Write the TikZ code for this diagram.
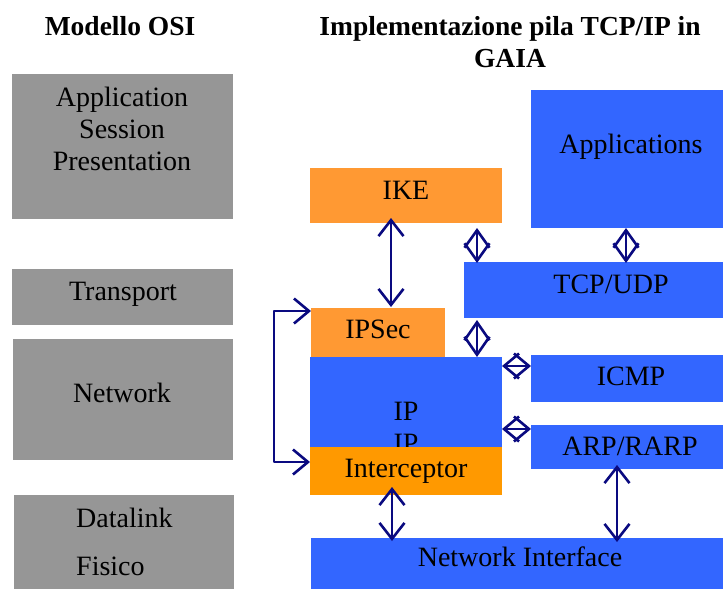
\documentclass[tikz,border=0pt]{standalone}
\usepackage{fontspec}
\setmainfont{Liberation Serif}
\usetikzlibrary{arrows.meta,calc}
\definecolor{osigrey}{HTML}{969696}
\definecolor{stackblue}{HTML}{3366FF}
\definecolor{secorange}{HTML}{FF9933}
\definecolor{hookorange}{HTML}{FF9900}
\definecolor{linknavy}{HTML}{0A0A80}
\begin{document}
\begin{tikzpicture}[x=1pt,y=-1pt,
  layer/.style={draw=none, inner sep=0pt, outer sep=0pt, anchor=north west},
  osi/.style={layer, fill=osigrey},
  stack/.style={layer, fill=stackblue},
  sec/.style={layer, fill=secorange},
  lbl/.style={anchor=base, inner sep=0pt, font=\fontsize{28}{32}\selectfont},
  ttl/.style={lbl, font=\fontsize{27.5}{32}\selectfont\bfseries},
  link/.style={line width=2.6pt, draw=linknavy, line cap=round, line join=round,
    arrows={Straight Barb[length=#1,width=25pt]-Straight Barb[length=#1,width=25pt]}},
  link/.default=16pt
]
\useasboundingbox (0,0) rectangle (723,589);

% titles
\node[ttl] (t1) at (120,35) {Modello OSI};
\node[ttl] (t2) at (510,35) {Implementazione pila TCP/IP in};
\node[ttl] (t3) at (510,67) {GAIA};

% OSI reference layers
\node[osi, minimum width=221pt, minimum height=145pt] (oApp) at (12,74) {};
\node[lbl] (lApp1) at (122,106) {Application};
\node[lbl] (lApp2) at (122,138) {Session};
\node[lbl] (lApp3) at (122,170) {Presentation};

\node[osi, minimum width=221pt, minimum height=56pt] (oTr) at (12,269) {};
\node[lbl] (lTr) at (123,300) {Transport};

\node[osi, minimum width=220pt, minimum height=121pt] (oNet) at (13,339) {};
\node[lbl] (lNet) at (122,402) {Network};

\node[osi, minimum width=220pt, minimum height=94pt] (oDl) at (14,495) {};
\node[lbl, anchor=base west] (lDl) at (76,527) {Datalink};
\node[lbl, anchor=base west] (lPh) at (76,575) {Fisico};

% GAIA stack
\node[stack, minimum width=192pt, minimum height=138pt] (apps) at (531,90) {};
\node[lbl] (lApps) at (631,153) {Applications};

\node[sec, minimum width=192pt, minimum height=55pt] (ike) at (310,168) {};
\node[lbl] (lIke) at (406,199) {IKE};

\node[stack, minimum width=259pt, minimum height=56pt] (tcp) at (464,262) {};
\node[lbl] (lTcp) at (611,293) {TCP/UDP};

\node[sec, minimum width=134pt, minimum height=50pt] (ipsec) at (311,308) {};
\node[lbl] (lIpsec) at (378,338) {IPSec};

\node[stack, minimum width=192pt, minimum height=90pt] (ip) at (310,357) {};
\node[lbl] (lIp1) at (406,420) {IP};
\node[lbl] (lIp2) at (406,452) {IP};

\node[stack, minimum width=192pt, minimum height=47pt] (icmp) at (531,355) {};
\node[lbl] (lIcmp) at (631,385) {ICMP};

\node[stack, minimum width=192pt, minimum height=44pt] (arp) at (531,425) {};
\node[lbl] (lArp) at (630,455) {ARP/RARP};

\node[layer, fill=hookorange, minimum width=192pt, minimum height=48pt] (intc) at (310,447) {};
\node[lbl] (lIntc) at (406,477) {Interceptor};

\node[stack, minimum width=412pt, minimum height=51pt] (nic) at (311,538) {};
\node[lbl] (lNic) at (520,566) {Network Interface};

% guide lines for the connectors
\coordinate (xA) at (391,0);
\coordinate (xB) at (477,0);
\coordinate (xC) at (626,0);
\coordinate (xD) at (392,0);
\coordinate (xE) at (617,0);
\coordinate (xL) at (274,0);
\coordinate (yA) at (0,366);
\coordinate (yB) at (0,429);
\coordinate (yS) at (0,311);
\coordinate (yI) at (0,462);

% connectors
\draw[link] ($(ike.south -| xA)+(0,-5)$) -- ($(ipsec.north -| xA)+(0,-1)$);
\draw[link=17.5pt] ($(ike.south -| xB)+(0,5)$) -- ($(tcp.north -| xB)+(0,1)$);
\draw[link=17.5pt] (apps.south -| xC) -- ($(tcp.north -| xC)+(0,1)$);
\draw[link=18pt] ($(tcp.south -| xB)+(0,2)$) -- (ip.north -| xB);
\draw[link=15pt] (ip.east |- yA) -- (icmp.west |- yA);
\draw[link=15pt] (ip.east |- yB) -- (arp.west |- yB);
\draw[link] ($(intc.south -| xD)+(0,-8)$) -- ($(nic.north -| xD)+(0,3)$);
\draw[link] ($(arp.south -| xE)+(0,-4)$) -- ($(nic.north -| xE)+(0,4)$);
\draw[link=15pt] (ipsec.west |- yS) -- (xL |- yS) -- (xL |- yI) -- (intc.west |- yI);
\end{tikzpicture}
\end{document}
